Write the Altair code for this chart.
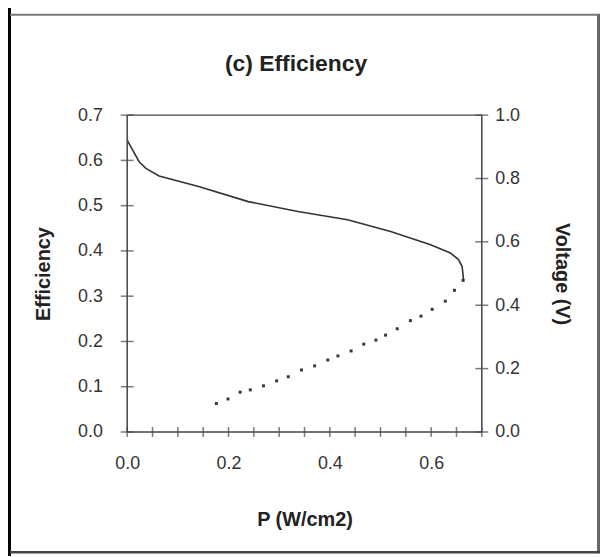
import altair as alt
import pandas as pd

# ---- data ----
line_p = [0.0, 0.0235, 0.037, 0.063, 0.141, 0.239, 0.337, 0.435, 0.520, 0.599,
          0.638, 0.654, 0.661, 0.663, 0.664]
line_v = [0.921, 0.853, 0.832, 0.808, 0.775, 0.727, 0.696, 0.670, 0.633, 0.591,
          0.565, 0.544, 0.523, 0.497, 0.476]

dot_p = [0.176, 0.199, 0.223, 0.243, 0.269, 0.295, 0.318, 0.344, 0.370, 0.396, 0.416,
         0.442, 0.467, 0.491, 0.510, 0.533, 0.559, 0.580, 0.602, 0.628, 0.646, 0.663]
dot_eff = [0.063, 0.073, 0.088, 0.093, 0.102, 0.113, 0.122, 0.137, 0.146, 0.159, 0.168,
           0.179, 0.194, 0.203, 0.214, 0.228, 0.246, 0.256, 0.271, 0.289, 0.313, 0.335]

x_labels = [0.0, 0.2, 0.4, 0.6]
x_ticks = [0.0, 0.05, 0.1, 0.15, 0.2, 0.25, 0.3, 0.35, 0.4, 0.45, 0.5, 0.55, 0.6, 0.65, 0.7]
eff_ticks = [0.0, 0.1, 0.2, 0.3, 0.4, 0.5, 0.6, 0.7]
volt_ticks = [0.0, 0.2, 0.4, 0.6, 0.8, 1.0]
chart_title = ["(c) Efficiency"]

W, H = 357, 319
FONT = "Liberation Sans"

line_df = pd.DataFrame({"P": line_p, "V": line_v, "i": range(len(line_p))})
dot_df = pd.DataFrame({"P": dot_p, "E": dot_eff})
xt_df = pd.DataFrame({"t": x_ticks})
et_df = pd.DataFrame({"t": eff_ticks})
vt_df = pd.DataFrame({"t": volt_ticks})
title_df = pd.DataFrame({"txt": chart_title})

xscale = alt.Scale(domain=[0, 0.7], nice=False, zero=False)
escale = alt.Scale(domain=[0, 0.7], nice=False)
vscale = alt.Scale(domain=[0, 1.0], nice=False)

x_axis = alt.Axis(values=x_labels, format=".1f", ticks=False, tickSize=0, domain=False,
                  grid=False, labelPadding=23, labelFontSize=18, labelColor="#333",
                  labelFont=FONT, labelFlush=False, labelOverlap=False,
                  title="P (W/cm2)", titleFontSize=20, titleFont=FONT,
                  titleFontWeight="bold", titleColor="#222", titlePadding=37)

eff_axis = alt.Axis(values=eff_ticks, format=".1f", ticks=False, tickSize=0, domain=False,
                    grid=False, labelPadding=25, labelFontSize=18, labelColor="#333",
                    labelFont=FONT, labelFlush=False, labelOverlap=False,
                    title="Efficiency", titleFontSize=20, titleFont=FONT,
                    titleFontWeight="bold", titleColor="#222", titlePadding=24)

volt_axis = alt.Axis(values=volt_ticks, format=".1f", ticks=False, tickSize=0, domain=False,
                     grid=False, orient="right", labelPadding=13, labelFontSize=18,
                     labelColor="#333", labelFont=FONT, labelFlush=False,
                     labelOverlap=False, title="Voltage (V)",
                     titleFontSize=20, titleFont=FONT, titleFontWeight="bold",
                     titleColor="#222", titlePadding=32)

X = alt.X("P:Q", scale=xscale, axis=x_axis, title="P (W/cm2)")

dots = alt.Chart(dot_df).mark_square(size=9, color="#222", opacity=0.9).encode(
    x=X,
    y=alt.Y("E:Q", scale=escale, axis=eff_axis),
)

line = alt.Chart(line_df).mark_line(color="#333", strokeWidth=1.6).encode(
    x=X,
    y=alt.Y("V:Q", scale=vscale, axis=volt_axis),
    order="i:Q",
)

eticks = alt.Chart(et_df).mark_tick(size=13, thickness=1.5, color="#444").encode(
    y=alt.Y("t:Q", scale=escale, axis=None), x=alt.value(0)
)
vticks = alt.Chart(vt_df).mark_tick(size=13, thickness=1.5, color="#444").encode(
    y=alt.Y("t:Q", scale=vscale, axis=None), x=alt.value(W)
)
xticks = alt.Chart(xt_df).mark_tick(size=10, thickness=1.5, color="#444").encode(
    x=alt.X("t:Q", scale=xscale, axis=x_axis, title="P (W/cm2)"), y=alt.value(H)
)

title_txt = alt.Chart(title_df).mark_text(
    font=FONT, fontSize=23, fontWeight="bold", color="#222", baseline="middle",
    align="center").encode(text="txt:N", x=alt.value(170), y=alt.value(-51))

frame_df = pd.DataFrame({"k": [0]})
left_bar = alt.Chart(frame_df).mark_rule(color="#000", strokeWidth=4).encode(
    x=alt.value(-119), y=alt.value(-109), y2=alt.value(450))
top_line = alt.Chart(frame_df).mark_rule(color="#777", strokeWidth=2).encode(
    x=alt.value(-118), x2=alt.value(476), y=alt.value(-101))
right_line = alt.Chart(frame_df).mark_rule(color="#666", strokeWidth=3).encode(
    x=alt.value(474.5), y=alt.value(-101), y2=alt.value(441))
bottom_line = alt.Chart(frame_df).mark_rule(color="#444", strokeWidth=2.5).encode(
    x=alt.value(-118), x2=alt.value(476), y=alt.value(440))
box_top = alt.Chart(frame_df).mark_rule(color="#444", strokeWidth=1.5).encode(
    x=alt.value(0), x2=alt.value(W), y=alt.value(0))
box_left = alt.Chart(frame_df).mark_rule(color="#444", strokeWidth=1.5).encode(
    x=alt.value(0), y=alt.value(0), y2=alt.value(H))
box_right = alt.Chart(frame_df).mark_rule(color="#444", strokeWidth=1.5).encode(
    x=alt.value(W), y=alt.value(0), y2=alt.value(H))
box_bottom = alt.Chart(frame_df).mark_rule(color="#444", strokeWidth=1.5).encode(
    x=alt.value(0), x2=alt.value(W), y=alt.value(H))

chart = alt.layer(
    dots, line, eticks, vticks, xticks, title_txt,
    box_top, box_left, box_right, box_bottom,
    left_bar, top_line, right_line, bottom_line
).resolve_scale(y="independent").properties(
    width=W, height=H,
    autosize=alt.AutoSizeParams(type="none"),
    padding={"left": 120, "top": 106, "right": 119, "bottom": 123},
    background="white",
).configure_view(stroke=None)

chart.save("out.html", embed_options={"renderer": "svg", "actions": False})
